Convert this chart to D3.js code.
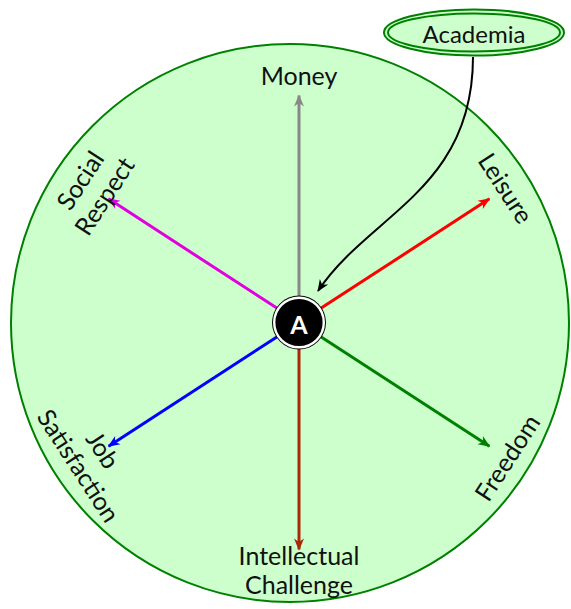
<!DOCTYPE html>
<html>
<head>
<meta charset="utf-8">
<style>
  body { margin: 0; background: #fff; }
  svg text { font-family: "Lato", "DejaVu Sans", sans-serif; fill: #111; }
</style>
</head>
<body>
<script src="https://d3js.org/d3.v7.min.js"></script>
<script>
const W = 571, H = 609;

// axes of the wheel
const categories = ["Money", "Leisure", "Freedom", "Intellectual Challenge", "Job Satisfaction", "Social Respect"];
const labelLines = [["Money"], ["Leisure"], ["Freedom"], ["Intellectual", "Challenge"], ["Job", "Satisfaction"], ["Social", "Respect"]];
const angles = [90, 33, -33, -90, 213, 147];          // degrees, counter-clockwise from east
const lengths = [1, 1, 1, 1, 1, 1];                   // relative arrow lengths
const colors = ["#888888", "#ff0000", "#008000", "#a8280a", "#0000ff", "#e000e0"];
const nodeLabel = "A";
const calloutLabel = "Academia";

const svg = d3.select("body").append("svg")
  .attr("width", W).attr("height", H);

const defs = svg.append("defs");
colors.concat(["#000"]).forEach((c, i) => {
  defs.append("marker")
    .attr("id", "tip" + i)
    .attr("viewBox", "-12 -6 14 12")
    .attr("refX", 0).attr("refY", 0)
    .attr("markerWidth", 14).attr("markerHeight", 12)
    .attr("markerUnits", "userSpaceOnUse")
    .attr("orient", "auto")
    .append("path")
    .attr("d", "M-11,-5 L1,0 L-11,5 L-7.5,0 Z")
    .attr("fill", c);
});

// background disc
svg.append("circle")
  .attr("cx", 290).attr("cy", 323).attr("r", 279)
  .attr("fill", "#ccffcc").attr("stroke", "#008000").attr("stroke-width", 2);

const cx = 299, cy = 322.5;
const r = d3.scaleLinear().domain([0, 1]).range([0, 227]);
const rad = d => d * Math.PI / 180;

const g = svg.append("g").attr("transform", `translate(${cx},${cy})`);

// arrows
g.selectAll("line.axis")
  .data(categories)
  .join("line")
  .attr("class", "axis")
  .attr("x1", (d, i) => 26 * Math.cos(rad(angles[i])))
  .attr("y1", (d, i) => -26 * Math.sin(rad(angles[i])))
  .attr("x2", (d, i) => r(lengths[i]) * Math.cos(rad(angles[i])))
  .attr("y2", (d, i) => -r(lengths[i]) * Math.sin(rad(angles[i])))
  .attr("stroke", (d, i) => colors[i])
  .attr("stroke-width", 3)
  .attr("marker-end", (d, i) => `url(#tip${i})`);

// labels, tangential to the wheel
const labelR = r(1.09);
function rot(a) {
  return Math.sin(rad(a)) >= 0 ? 90 - a : -(((a + 180) % 360) - 180 + 90);
}
const lab = g.selectAll("g.lab")
  .data(categories)
  .join("g")
  .attr("class", "lab")
  .attr("transform", (d, i) => {
    const a = angles[i];
    return `translate(${labelR * Math.cos(rad(a))},${-labelR * Math.sin(rad(a))}) rotate(${rot(a)})`;
  });
lab.each(function(d, i) {
  const lines = labelLines[i];
  const n = lines.length;
  d3.select(this).selectAll("text")
    .data(lines)
    .join("text")
    .attr("text-anchor", "middle")
    .attr("dominant-baseline", "central")
    .attr("font-size", 25)
    .attr("y", (t, j) => (j - (n - 1) / 2) * 29)
    .text(t => t);
});

// central node
g.append("circle").attr("r", 27).attr("fill", "#000");
g.append("circle").attr("r", 24.8).attr("fill", "none").attr("stroke", "#fff").attr("stroke-width", 2.4);
g.append("text")
  .attr("text-anchor", "middle").attr("dominant-baseline", "central")
  .attr("y", 1)
  .attr("font-size", 25).attr("font-weight", "bold")
  .style("fill", "#fff")
  .text(nodeLabel);

// callout
const ex = 474, ey = 32.5;
svg.append("ellipse")
  .attr("cx", ex).attr("cy", ey).attr("rx", 90).attr("ry", 23)
  .attr("fill", "#ccffcc").attr("stroke", "#008000").attr("stroke-width", 2);
svg.append("ellipse")
  .attr("cx", ex).attr("cy", ey).attr("rx", 86).attr("ry", 19)
  .attr("fill", "none").attr("stroke", "#008000").attr("stroke-width", 2);
svg.append("text")
  .attr("x", ex).attr("y", ey + 1)
  .attr("text-anchor", "middle").attr("dominant-baseline", "central")
  .attr("font-size", 24)
  .text(calloutLabel);

const p = d3.path();
p.moveTo(473, 57);
p.bezierCurveTo(473, 190, 368, 215, 318, 291);
svg.append("path")
  .attr("d", p.toString())
  .attr("fill", "none").attr("stroke", "#000").attr("stroke-width", 2)
  .attr("marker-end", `url(#tip${colors.length})`);
</script>
</body>
</html>
